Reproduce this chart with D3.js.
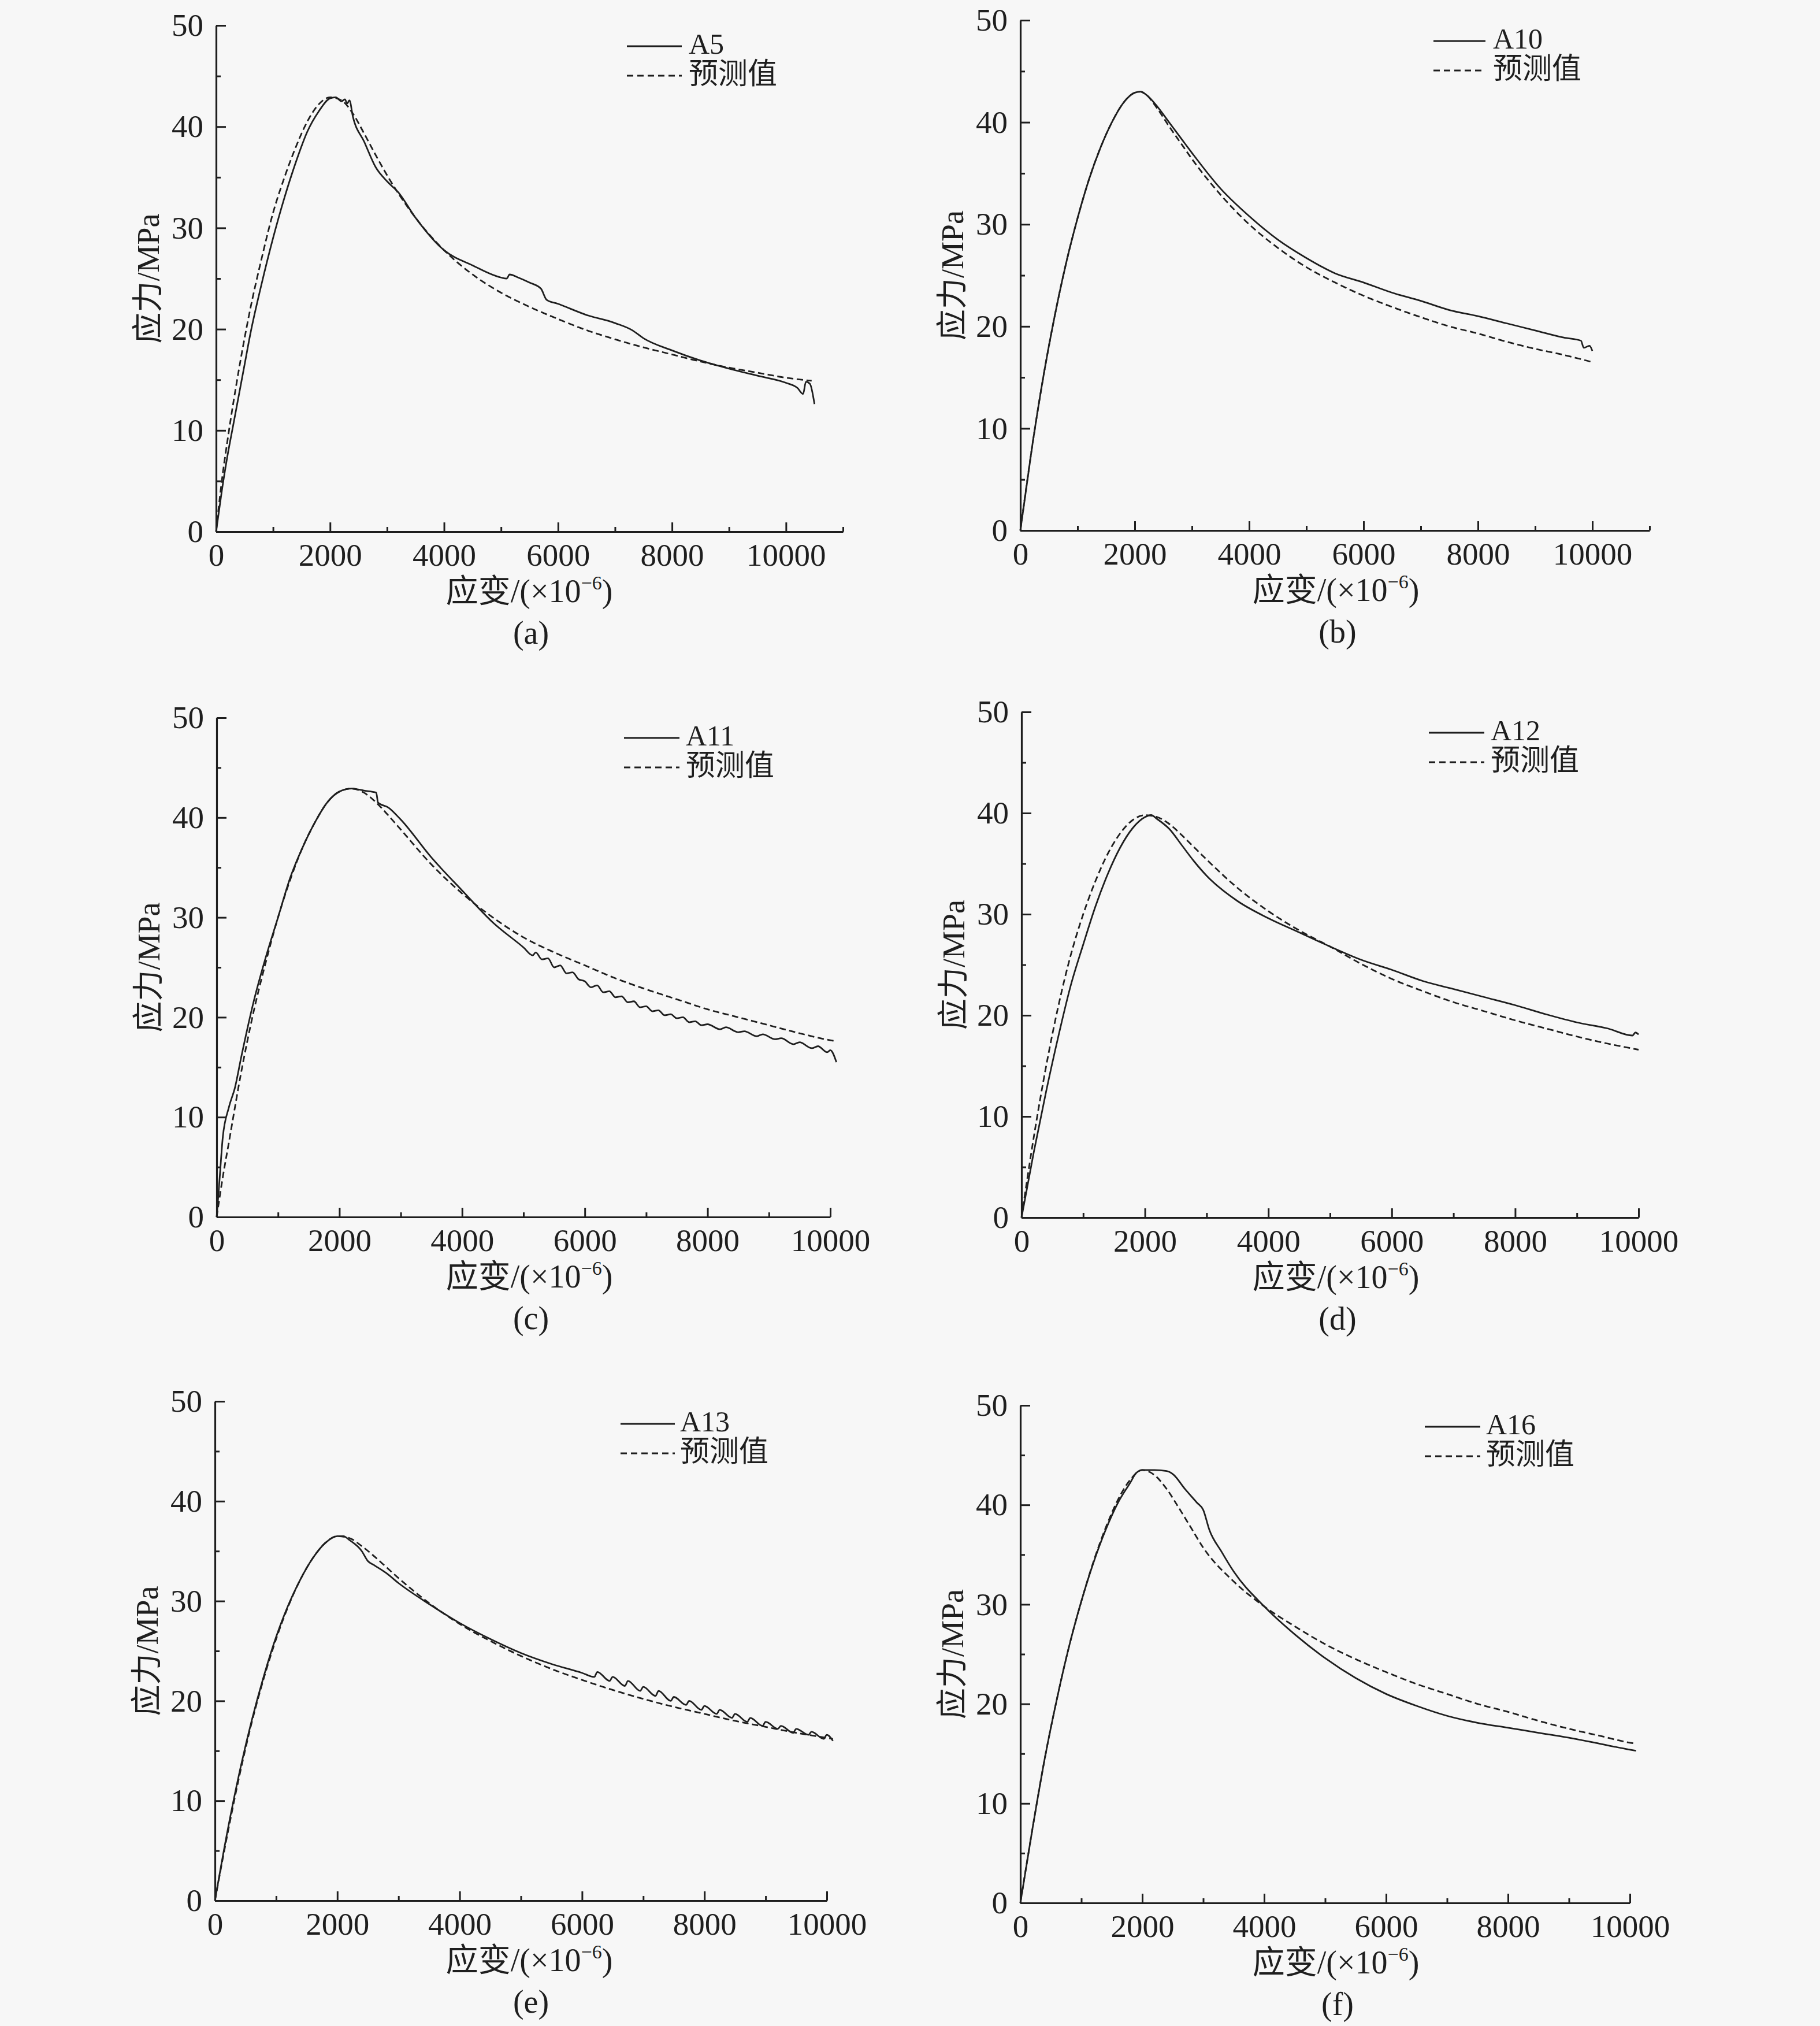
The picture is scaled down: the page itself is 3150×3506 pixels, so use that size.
<!DOCTYPE html>
<html><head><meta charset="utf-8">
<script src="https://cdn.jsdelivr.net/npm/d3@7"></script>
<style>
body{margin:0;background:#f7f7f7}
svg{display:block}
text{font-family:"Liberation Serif","Times New Roman","Noto Sans CJK SC",serif;fill:#1e1e1e}
</style>
</head><body>
<svg id="chart" width="3150" height="3506"></svg>
<script>
// ---------- data (strain ×10^-6, stress MPa) ----------
const yMajorTicks = [0,10,20,30,40,50];
const yMinorTicks = [5,15,25,35,45];
const seriesNames = ["A5","A10","A11","A12","A13","A16"];
const predName = "预测值";
const panelLabels = ["(a)","(b)","(c)","(d)","(e)","(f)"];
const xMaxValues = [11000,11000,10000,10000,10000,10000];

const A5_test = [[0,0],[100,4],[200,7.5],[300,10.5],[400,13.5],[500,16.5],[600,19.5],[800,24.5],[1000,29],[1200,33],[1400,36.5],[1600,39.5],[1800,41.5],[2000,42.8],[2100,42.9],[2200,42.5],[2260,42.7],[2300,42.3],[2340,42.6],[2400,41],[2600,38.5],[2800,36],[3000,34.6],[3200,33.5],[3500,31],[4000,27.8],[4500,26.3],[5000,25.1],[5100,25],[5150,25.4],[5300,25.1],[5500,24.6],[5700,24],[5800,22.9],[6000,22.5],[6500,21.4],[7000,20.6],[7300,19.9],[7500,19.1],[8000,17.9],[8500,16.9],[9000,16.1],[9500,15.4],[10000,14.7],[10200,14.2],[10300,13.6],[10350,14.8],[10420,14.6],[10500,12.6]];
const A5_pred = [[0,0],[100,5],[200,9],[400,16],[600,22],[800,27],[1000,31.5],[1200,35],[1400,38],[1600,40.5],[1800,42.2],[2000,42.9],[2200,42.6],[2400,41.3],[2600,39.3],[2800,37.2],[3000,35.2],[3500,31],[4000,27.8],[4500,25.4],[5000,23.6],[5500,22.2],[6000,21],[6500,19.9],[7000,19],[7500,18.2],[8000,17.5],[8500,16.8],[9000,16.2],[9500,15.7],[10000,15.2],[10450,14.9]];

const A10_test = [[0,0],[200,8],[400,15],[600,21],[800,26.2],[1000,30.6],[1200,34.4],[1400,37.5],[1600,40],[1800,41.9],[2000,42.9],[2100,43],[2200,42.7],[2400,41.5],[2600,40],[2800,38.5],[3000,37],[3500,33.5],[4000,30.8],[4500,28.5],[5000,26.7],[5500,25.2],[6000,24.3],[6500,23.3],[7000,22.5],[7500,21.6],[8000,21],[8500,20.3],[9000,19.6],[9500,18.9],[9800,18.6],[9850,17.9],[9950,18.1],[10000,17.6]];
const A10_pred = [[0,0],[200,8],[400,15],[600,21],[800,26.2],[1000,30.6],[1200,34.4],[1400,37.5],[1600,40],[1800,41.9],[2000,42.9],[2100,43],[2200,42.7],[2400,41.3],[2600,39.6],[2800,38],[3000,36.4],[3500,32.9],[4000,30],[4500,27.7],[5000,25.8],[5500,24.3],[6000,23],[6500,21.9],[7000,20.9],[7500,20],[8000,19.3],[8500,18.5],[9000,17.8],[9500,17.2],[10000,16.5]];

const A11_test = [[0,0],[50,4],[100,8],[200,11],[300,13],[400,16],[600,21.5],[800,26],[1000,30],[1200,34],[1400,37],[1600,39.5],[1800,41.5],[2000,42.6],[2200,42.9],[2400,42.7],[2600,42.5],[2630,41.5],[2800,41],[3000,39.8],[3500,36],[4000,32.7],[4500,29.5],[5000,27],[5150,26.2],[5200,26.5],[5300,25.8],[5400,25.9],[5500,25],[5600,25.2],[5700,24.4],[5800,24.5],[5900,23.8],[6000,23.6],[6100,23],[6200,23.2],[6300,22.5],[6400,22.6],[6500,22],[6600,22.1],[6700,21.5],[6800,21.6],[6900,21],[7000,21.1],[7100,20.6],[7200,20.7],[7300,20.2],[7400,20.3],[7500,19.9],[7600,20],[7700,19.5],[7800,19.6],[7900,19.2],[8000,19.3],[8200,18.8],[8300,19],[8500,18.5],[8600,18.6],[8800,18.1],[8900,18.3],[9100,17.8],[9200,17.9],[9400,17.3],[9500,17.5],[9700,16.9],[9800,17.1],[9950,16.5],[10000,16.7],[10100,15.5]];
const A11_pred = [[0,0],[100,4],[200,7.5],[400,14.5],[600,20.5],[800,25.5],[1000,30],[1200,33.8],[1400,37],[1600,39.5],[1800,41.5],[2000,42.6],[2200,42.9],[2400,42.5],[2600,41.5],[2800,40.2],[3000,38.8],[3500,35.3],[4000,32.4],[4500,30],[5000,28],[5500,26.5],[6000,25.2],[6500,23.9],[7000,22.8],[7500,21.8],[8000,20.8],[8500,20],[9000,19.2],[9500,18.4],[10000,17.7],[10100,17.6]];

const A12_test = [[0,0],[200,6.5],[400,12.5],[600,18],[800,23],[1000,27],[1200,30.8],[1400,34],[1600,36.6],[1800,38.5],[2000,39.6],[2100,39.8],[2200,39.4],[2400,38.4],[2600,36.8],[2800,35.2],[3000,33.8],[3500,31.3],[4000,29.6],[4500,28.2],[5000,26.8],[5500,25.5],[6000,24.5],[6500,23.4],[7000,22.6],[7500,21.8],[8000,21],[8500,20.1],[9000,19.3],[9500,18.7],[9900,18],[9950,18.3],[10000,18.1]];
const A12_pred = [[0,0],[200,8],[400,15],[600,21],[800,26],[1000,30],[1200,33.3],[1400,36],[1600,38],[1800,39.3],[2000,39.8],[2200,39.6],[2400,38.9],[2600,37.8],[2800,36.6],[3000,35.4],[3500,32.6],[4000,30.3],[4500,28.4],[5000,26.8],[5500,25.1],[6000,23.6],[6500,22.4],[7000,21.3],[7500,20.4],[8000,19.5],[8500,18.7],[9000,17.9],[9500,17.2],[10000,16.6]];

const A13_test = [[0,0],[200,6.8],[400,12.8],[600,18],[800,22.5],[1000,26.4],[1200,29.6],[1400,32.2],[1600,34.3],[1800,35.8],[2000,36.5],[2100,36.5],[2200,36.1],[2400,35],[2500,34],[2600,33.6],[2800,32.8],[3000,31.8],[3500,29.7],[4000,27.8],[4500,26.2],[5000,24.8],[5500,23.7],[6000,22.8],[6200,22.4],[6250,22.9],[6450,22],[6500,22.4],[6700,21.5],[6750,22],[6950,21],[7000,21.4],[7200,20.5],[7250,21],[7450,20],[7500,20.4],[7700,19.6],[7750,20],[7950,19.1],[8000,19.5],[8200,18.7],[8250,19.1],[8450,18.3],[8500,18.7],[8700,17.9],[8750,18.3],[8950,17.5],[9000,17.9],[9200,17.2],[9250,17.5],[9450,16.8],[9500,17.2],[9700,16.6],[9750,16.9],[9950,16.2],[10000,16.6],[10100,16]];
const A13_pred = [[0,0],[200,6.5],[400,12.5],[600,17.8],[800,22.3],[1000,26.2],[1200,29.5],[1400,32.2],[1600,34.3],[1800,35.8],[2000,36.5],[2200,36.3],[2400,35.5],[2600,34.5],[2800,33.4],[3000,32.3],[3500,29.8],[4000,27.7],[4500,26],[5000,24.5],[5500,23.2],[6000,22.1],[6500,21.1],[7000,20.2],[7500,19.4],[8000,18.7],[8500,18],[9000,17.4],[9500,16.8],[10000,16.3],[10100,16.2]];

const A16_test = [[0,0],[200,7.5],[400,14.5],[600,20.5],[800,25.8],[1000,30.3],[1200,34.2],[1400,37.5],[1600,40.2],[1800,42.2],[1900,43.2],[2000,43.5],[2200,43.5],[2400,43.4],[2500,43.1],[2700,41.6],[2900,40.2],[3000,39.5],[3100,37.5],[3300,35.3],[3500,33.3],[4000,29.8],[4500,27],[5000,24.6],[5500,22.6],[6000,21],[6500,19.8],[7000,18.8],[7500,18.1],[8000,17.6],[8500,17.1],[9000,16.6],[9500,16],[10000,15.4],[10100,15.3]];
const A16_pred = [[0,0],[200,7.5],[400,14.5],[600,20.5],[800,25.8],[1000,30.3],[1200,34.3],[1400,37.7],[1600,40.5],[1800,42.5],[2000,43.5],[2200,43],[2400,41.6],[2600,39.7],[2800,37.7],[3000,35.7],[3500,32.3],[4000,29.8],[4500,27.8],[5000,26],[5500,24.5],[6000,23.2],[6500,22],[7000,21],[7500,20],[8000,19.2],[8500,18.3],[9000,17.5],[9500,16.8],[10000,16.1],[10100,16]];

const testSeries = [A5_test,A10_test,A11_test,A12_test,A13_test,A16_test];
const predSeries = [A5_pred,A10_pred,A11_pred,A12_pred,A13_pred,A16_pred];

// ---------- layout (pixels) ----------
const layout = [
  {x0:374, x1:1459, yTop:44,   yBot:920,  leg:[1085,1180,1192], legY:93,   midX:916},
  {x0:1766,x1:2855, yTop:35,   yBot:918,  leg:[2481,2571,2584], legY:84,   midX:2312},
  {x0:375, x1:1437, yTop:1242, yBot:2106, leg:[1080,1176,1187], legY:1290, midX:916},
  {x0:1768,x1:2836, yTop:1232, yBot:2107, leg:[2473,2569,2580], legY:1281, midX:2312},
  {x0:372, x1:1431, yTop:2425, yBot:3289, leg:[1074,1168,1177], legY:2477, midX:916},
  {x0:1766,x1:2821, yTop:2432, yBot:3293, leg:[2466,2562,2572], legY:2482, midX:2312}
];

const svg = d3.select("#chart");
svg.append("rect").attr("width",3150).attr("height",3506).attr("fill","#f7f7f7");
const INK = "#1e1e1e";

layout.forEach((L,i)=>{
  const xMax = xMaxValues[i];
  const x = d3.scaleLinear().domain([0,xMax]).range([L.x0,L.x1]);
  const y = d3.scaleLinear().domain([0,50]).range([L.yBot,L.yTop]);
  const g = svg.append("g");

  const xMajor = d3.range(0,xMax+1,2000);
  const xMinor = d3.range(1000,xMax+1,2000);

  const gxm = g.append("g").attr("transform",`translate(0,${L.yBot})`)
    .call(d3.axisBottom(x).tickValues(xMinor).tickSize(-8).tickSizeOuter(0).tickFormat(""));
  gxm.select(".domain").remove();
  const gym = g.append("g").attr("transform",`translate(${L.x0},0)`)
    .call(d3.axisLeft(y).tickValues(yMinorTicks).tickSize(-8).tickSizeOuter(0).tickFormat(""));
  gym.select(".domain").remove();

  const gx = g.append("g").attr("transform",`translate(0,${L.yBot})`)
    .call(d3.axisBottom(x).tickValues(xMajor).tickSize(-16).tickSizeOuter(0).tickPadding(20).tickFormat(d3.format("d")));
  const gy = g.append("g").attr("transform",`translate(${L.x0},0)`)
    .call(d3.axisLeft(y).tickValues(yMajorTicks).tickSize(-17).tickSizeOuter(0).tickPadding(22).tickFormat(d3.format("d")));

  [gx,gy,gxm,gym].forEach(a=>{
    a.selectAll("line").attr("stroke",INK).attr("stroke-width",3);
    a.selectAll(".domain").attr("stroke",INK).attr("stroke-width",3.2);
    a.selectAll("text").attr("fill",INK).attr("font-size",55)
      .attr("font-family",'"Liberation Serif","Times New Roman",serif');
  });

  const line = d3.line().x(d=>x(d[0])).y(d=>y(d[1])).curve(d3.curveMonotoneX);
  g.append("path").datum(predSeries[i]).attr("d",line).attr("fill","none")
    .attr("stroke",INK).attr("stroke-width",2.8).attr("stroke-dasharray","11,6");
  g.append("path").datum(testSeries[i]).attr("d",line).attr("fill","none")
    .attr("stroke",INK).attr("stroke-width",2.8).attr("stroke-linejoin","round");

  const [lx1,lx2,tx] = L.leg;
  g.append("line").attr("x1",lx1).attr("x2",lx2).attr("y1",L.legY-13).attr("y2",L.legY-13)
    .attr("stroke",INK).attr("stroke-width",3);
  g.append("text").attr("x",tx).attr("y",L.legY).attr("font-size",50).text(seriesNames[i]);
  g.append("line").attr("x1",lx1).attr("x2",lx2).attr("y1",L.legY+38).attr("y2",L.legY+38)
    .attr("stroke",INK).attr("stroke-width",3).attr("stroke-dasharray","11,7");
  g.append("text").attr("x",tx).attr("y",L.legY+52).attr("font-size",51)
    .attr("font-family",'"Noto Sans CJK SC",sans-serif').text(predName);

  const yc = (L.yTop+L.yBot)/2;
  g.append("text").attr("transform",`translate(${L.x0-118},${yc}) rotate(-90)`)
    .attr("text-anchor","middle").attr("dy","0.36em").attr("font-size",54)
    .text("应力/MPa");

  const xt = g.append("text").attr("x",L.midX).attr("y",L.yBot+122)
    .attr("text-anchor","middle").attr("font-size",56);
  xt.append("tspan").text("应变/(×10");
  xt.append("tspan").attr("dy",-22).attr("font-size",34).text("−6");
  xt.append("tspan").attr("dy",22).text(")");

  g.append("text").attr("x",L.midX+3).attr("y",L.yBot+194).attr("text-anchor","middle")
    .attr("font-size",56).text(panelLabels[i]);
});
</script>
</body></html>
